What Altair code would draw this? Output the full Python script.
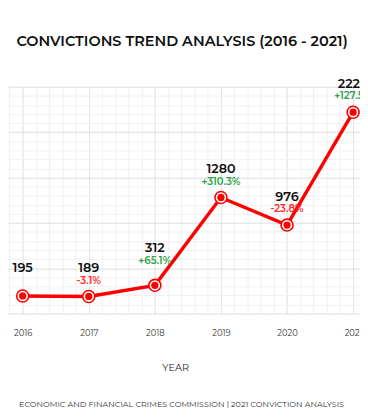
import altair as alt
import pandas as pd

years = [2016, 2017, 2018, 2019, 2020, 2021]
convictions = [195, 189, 312, 1280, 976, 2220]

pct_labels = [""]
for i in range(1, len(convictions)):
    p = (convictions[i] - convictions[i - 1]) / convictions[i - 1] * 100
    pct_labels.append(("+" if p >= 0 else "-") + f"{abs(p):.1f}%")

df = pd.DataFrame({
    "year": years,
    "value": convictions,
    "pct": pct_labels,
    "dir": ["none"] + ["up" if convictions[i] >= convictions[i - 1] else "down" for i in range(1, len(convictions))],
})

FONT = "Montserrat, Inter, sans-serif"
RED = "#ff0000"

x_dom = [2015.778, 2021.104]
y_dom = [0, 2500]
minor_x = [round(2015.8 + 0.2 * i, 1) for i in range(27)]
minor_x = [v for v in minor_x if abs(v - round(v)) > 1e-6]
minor_y = [v for v in range(0, 2501, 100) if v % 500 != 0]

xs = alt.Scale(domain=x_dom, nice=False, zero=False)
ys = alt.Scale(domain=y_dom, nice=False)

base = alt.Chart(df)
X0 = alt.X("year:Q", axis=None)
Y0 = alt.Y("value:Q", axis=None)

minor = base.mark_point(opacity=0).encode(
    x=alt.X("year:Q", scale=xs, axis=alt.Axis(
        values=minor_x, grid=True, gridColor="#f1f1f1", gridWidth=1,
        labels=False, ticks=False, domain=False, orient="bottom",
        title="ECONOMIC AND FINANCIAL CRIMES COMMISSION | 2021 CONVICTION ANALYSIS",
        titleFont=FONT, titleFontSize=8.2, titleFontWeight=400, titleColor="#333333",
        titlePadding=89, titleX=177)),
    y=alt.Y("value:Q", scale=ys, axis=alt.Axis(
        values=minor_y, grid=True, gridColor="#f1f1f1", gridWidth=1,
        labels=False, ticks=False, domain=False, title=None, orient="left")),
)

line = base.mark_line(color=RED, strokeWidth=3.5).encode(
    x=alt.X("year:Q", scale=xs, axis=alt.Axis(
        values=years, format="d", grid=True, gridColor="#dedede", gridWidth=1,
        ticks=False, domain=False, labelFont=FONT, labelFontSize=8.5,
        labelColor="#333333", labelPadding=15, orient="bottom",
        title="YEAR", titleFont=FONT, titleFontSize=10, titleFontWeight=400,
        titleColor="#222222", titlePadding=27, titleX=171)),
    y=alt.Y("value:Q", scale=ys, axis=alt.Axis(
        values=list(range(0, 2501, 500)), grid=True, gridColor="#dedede", gridWidth=1,
        labels=False, ticks=False, domain=False, title=None, orient="left")),
)

outer = base.mark_point(filled=True, fill="white", stroke=RED, strokeWidth=1.6,
                        size=150, opacity=1).encode(x=X0, y=Y0)
inner = base.mark_point(filled=True, color=RED, size=55, opacity=1).encode(x=X0, y=Y0)

normal = base.transform_filter("datum.year != 2018")
special = base.transform_filter("datum.year == 2018")

val_txt = dict(font=FONT, fontSize=13, fontWeight=600, color="#111111", baseline="middle")
pct_txt = dict(font=FONT, fontSize=10.3, fontWeight=600, baseline="middle")

pct_color = alt.Color("dir:N", scale=alt.Scale(domain=["up", "down", "none"],
                                               range=["#2ca24a", "#ff2a2a", "#ffffff"]),
                      legend=None)

vals1 = normal.mark_text(dy=-29, **val_txt).encode(x=X0, y=Y0, text="value:Q")
vals2 = special.mark_text(dy=-38, **val_txt).encode(x=X0, y=Y0, text="value:Q")
pct1 = normal.mark_text(dy=-16, **pct_txt).encode(x=X0, y=Y0, text="pct:N", color=pct_color)
pct2 = special.mark_text(dy=-25, **pct_txt).encode(x=X0, y=Y0, text="pct:N", color=pct_color)

chart = alt.layer(minor, line, outer, inner, vals1, vals2, pct1, pct2).resolve_axis(
    x="independent", y="independent"
).properties(
    width=360, height=232,
    padding={"top": 76, "left": 0, "right": 0, "bottom": 96},
    autosize=alt.AutoSizeParams(type="none"),
    title=alt.TitleParams(
        "CONVICTIONS TREND ANALYSIS (2016 - 2021)", font=FONT, fontSize=14.8,
        fontWeight=600, color="#111111", offset=30, anchor="middle", dx=-2),
).configure_view(stroke=None)

chart.save("out.html", embed_options={"renderer": "svg", "actions": False})
